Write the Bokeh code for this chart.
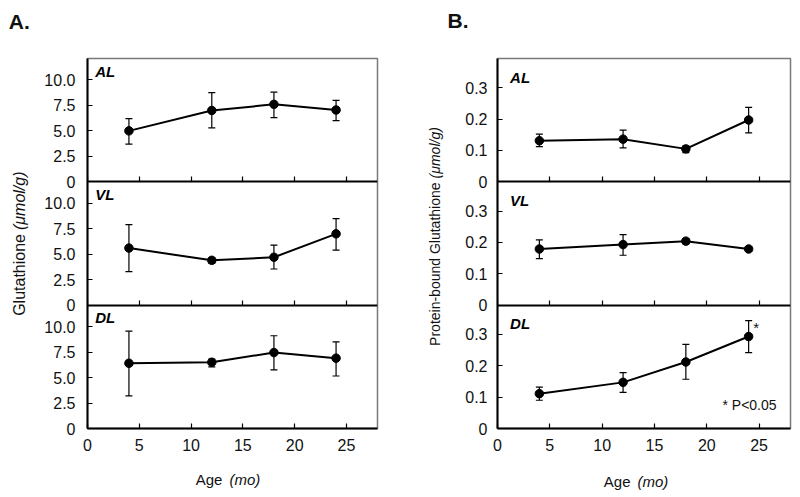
import math
from bokeh.plotting import figure
from bokeh.models import (Range1d, LinearAxis, FixedTicker, Whisker, ColumnDataSource,
                          Label, TeeHead)
from bokeh.layouts import row
from bokeh.embed import file_html
from bokeh.resources import INLINE

# ---------------- data ----------------
ages = [4, 12, 18, 24]
x_ticks = [0, 5, 10, 15, 20, 25]
x_tick_labels = ["0", "5", "10", "15", "20", "25"]
regions = ["DL", "VL", "AL"]  # bottom to top

# Panel A: Glutathione (umol/g)
gsh_al = [5.0, 7.0, 7.6, 7.05]
gsh_al_lo = [3.7, 5.3, 6.3, 6.0]
gsh_al_hi = [6.2, 8.75, 8.8, 8.0]
gsh_vl = [5.6, 4.4, 4.7, 7.0]
gsh_vl_lo = [3.3, 4.1, 3.55, 5.4]
gsh_vl_hi = [7.9, 4.65, 5.9, 8.5]
gsh_dl = [6.4, 6.5, 7.45, 6.9]
gsh_dl_lo = [3.2, 6.05, 5.75, 5.15]
gsh_dl_hi = [9.55, 6.8, 9.1, 8.5]
gsh_ticks = [0, 2.5, 5, 7.5, 10]
gsh_tick_labels = ["0", "2.5", "5.0", "7.5", "10.0"]

# Panel B: Protein-bound Glutathione (umol/g)
pbg_al = [0.131, 0.136, 0.105, 0.197]
pbg_al_lo = [0.112, 0.108, 0.093, 0.156]
pbg_al_hi = [0.152, 0.165, 0.115, 0.237]
pbg_vl = [0.179, 0.193, 0.204, 0.179]
pbg_vl_lo = [0.148, 0.159, 0.195, 0.171]
pbg_vl_hi = [0.208, 0.225, 0.211, 0.187]
pbg_dl = [0.111, 0.147, 0.212, 0.293]
pbg_dl_lo = [0.090, 0.115, 0.157, 0.242]
pbg_dl_hi = [0.132, 0.178, 0.268, 0.344]
pbg_ticks = [0, 0.1, 0.2, 0.3]
pbg_tick_labels = ["0", "0.1", "0.2", "0.3"]

FONT = "Liberation Sans"
INK = "#111111"


def make_panel(width, height, bl, br, bt, bb, R, xmax, series, yticks, ytick_labels,
               ystandoff, region_xy):
    p = figure(width=width, height=height, output_backend="svg", toolbar_location=None,
               x_range=Range1d(0, xmax), y_range=Range1d(0, 3 * R),
               min_border_left=bl, min_border_right=br, min_border_top=bt,
               min_border_bottom=bb, background_fill_color="white",
               border_fill_color="white")
    p.outline_line_color = "#7a7a7a"
    p.outline_line_width = 1.5
    p.xgrid.visible = False
    p.ygrid.visible = False

    # main x axis
    xa = p.xaxis[0]
    xa.ticker = FixedTicker(ticks=x_ticks)
    xa.major_label_overrides = {t: l for t, l in zip(x_ticks, x_tick_labels)}
    xa.major_tick_in = 5
    xa.major_tick_out = 0
    xa.minor_tick_line_color = None
    xa.axis_line_width = 2
    xa.major_tick_line_width = 1.2
    xa.major_label_text_font = FONT
    xa.major_label_text_font_size = "16px"
    xa.major_label_text_color = INK
    xa.major_label_standoff = 10

    # main y axis: one axis carrying the three stacked sub-scales
    ya = p.yaxis[0]
    pos, labs = [], []
    for k in range(3):
        for t, l in zip(yticks, ytick_labels):
            pos.append(k * R + t)
            labs.append(l)
    ya.ticker = FixedTicker(ticks=pos)
    ya.major_label_overrides = {q: l for q, l in zip(pos, labs)}
    ya.major_tick_in = 5
    ya.major_tick_out = 0
    ya.minor_tick_line_color = None
    ya.axis_line_width = 2
    ya.major_tick_line_width = 1.2
    ya.major_label_text_font = FONT
    ya.major_label_text_font_size = "16px"
    ya.major_label_text_color = INK
    ya.major_label_standoff = ystandoff

    # boundary axes between stacked subplots
    for k in (1, 2):
        ax = LinearAxis(fixed_location=k * R, ticker=FixedTicker(ticks=x_ticks),
                        major_tick_in=5, major_tick_out=0, minor_tick_line_color=None,
                        axis_line_width=2, major_tick_line_width=1.2,
                        major_label_text_font_size="0px", major_label_text_alpha=0)
        p.add_layout(ax, "below")

    for k, name in enumerate(regions):
        p.extra_y_ranges[name] = Range1d(start=-k * R, end=(3 - k) * R)
        y, lo, hi = series[name]
        src = ColumnDataSource(dict(x=ages, y=y, lo=lo, hi=hi))
        w = Whisker(base="x", lower="lo", upper="hi", source=src, dimension="height",
                    y_range_name=name, line_color="black", line_width=1.2,
                    lower_head=TeeHead(size=7, line_width=1.2, line_color="black"),
                    upper_head=TeeHead(size=7, line_width=1.2, line_color="black"))
        p.add_layout(w)
        p.line("x", "y", source=src, y_range_name=name, line_color="black", line_width=2)
        p.scatter("x", "y", source=src, y_range_name=name, size=8.5, fill_color="black",
                  line_color="black")
        rx, ry = region_xy
        p.add_layout(Label(x=rx, y=ry, text=name, y_range_name=name, text_font=FONT,
                           text_font_size="15px", text_font_style="bold italic",
                           text_baseline="alphabetic", text_color="black"))
    return p


def side_text(p, side, x, y, text, size, style="normal", align="left",
              baseline="alphabetic", angle=0.0):
    p.add_layout(Label(x=x, y=y, text=text, text_font=FONT, text_font_size=size,
                       text_font_style=style, text_align=align, text_baseline=baseline,
                       angle=angle, text_color=INK), side)


# ---------- Panel A ----------
RA = 12.1
pA = make_panel(410, 495, 87, 33, 57, 67, RA, 28,
                {"AL": (gsh_al, gsh_al_lo, gsh_al_hi),
                 "VL": (gsh_vl, gsh_vl_lo, gsh_vl_hi),
                 "DL": (gsh_dl, gsh_dl_lo, gsh_dl_hi)},
                gsh_ticks, gsh_tick_labels, 12, (0.75, 10.85))
side_text(pA, "above", -7.6, 39.92, "A.", "21px", "bold")
side_text(pA, "left", -6.57, 19.08, "Glutathione", "16px", align="right",
          baseline="middle", angle=math.pi / 2)
side_text(pA, "left", -6.57, 19.47, "(\u03bcmol/g)", "16px", "italic", align="left",
          baseline="middle", angle=math.pi / 2)
side_text(pA, "below", 13.03, -5.0, "Age", "15px", align="right")
side_text(pA, "below", 13.71, -5.0, "(mo)", "15px", "italic", align="left")

# ---------- Panel B ----------
RB = 0.393
pB = make_panel(382, 495, 87, 2, 58, 67, RB, 28,
                {"AL": (pbg_al, pbg_al_lo, pbg_al_hi),
                 "VL": (pbg_vl, pbg_vl_lo, pbg_vl_hi),
                 "DL": (pbg_dl, pbg_dl_lo, pbg_dl_hi)},
                pbg_ticks, pbg_tick_labels, 10, (1.2, 0.333))
side_text(pB, "above", -4.78, 1.30, "B.", "21px", "bold")
side_text(pB, "left", -6.02, 0.784, "Protein-bound Glutathione", "14px", align="right",
          baseline="middle", angle=math.pi / 2)
side_text(pB, "left", -6.02, 0.797, "(\u03bcmol/g)", "14px", "italic", align="left",
          baseline="middle", angle=math.pi / 2)
side_text(pB, "below", 12.71, -0.169, "Age", "15px", align="right")
side_text(pB, "below", 13.38, -0.169, "(mo)", "15px", "italic", align="left")

pB.add_layout(Label(x=24.45, y=0.322, text="*", y_range_name="DL", text_font=FONT,
                    text_font_size="15px", text_baseline="alphabetic", text_color=INK))
pB.add_layout(Label(x=21.5, y=0.074, text="* P<0.05", y_range_name="DL", text_font=FONT,
                    text_font_size="14px", text_baseline="alphabetic", text_color=INK))

layout = row(pA, pB)
open("out.html", "w").write(file_html(layout, INLINE))
